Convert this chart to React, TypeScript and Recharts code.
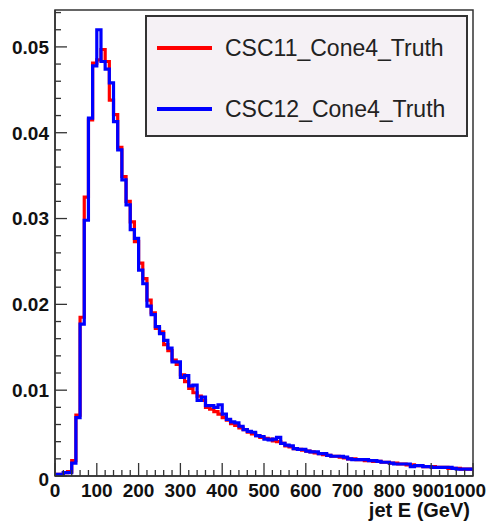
import { LineChart, Line, XAxis, YAxis, ReferenceArea, Legend } from "recharts"

// 10 GeV bins from 0 to 1000 GeV, normalised entries
const BIN_WIDTH = 10

const csc11 = [
  0.0002, 0.0002, 0.0004, 0.0005, 0.0018, 0.0071, 0.0185, 0.0325, 0.0415, 0.0481,
  0.0485, 0.0497, 0.0483, 0.0438, 0.0421, 0.0383, 0.0349, 0.0320, 0.0296, 0.0273,
  0.0248, 0.0230, 0.0205, 0.0190, 0.0172, 0.0168, 0.0153, 0.0146, 0.0135, 0.0130,
  0.0118, 0.0110, 0.0102, 0.0097, 0.0093, 0.0088, 0.0080, 0.0078, 0.0075, 0.0072,
  0.0068, 0.0065, 0.0061, 0.0059, 0.0056, 0.0054, 0.0051, 0.0049, 0.0047, 0.0045,
  0.0044, 0.0043, 0.0041, 0.0040, 0.0038, 0.0035, 0.0034, 0.0032, 0.0031, 0.0030,
  0.0029, 0.0028, 0.0027, 0.0026, 0.0025, 0.0024, 0.0023, 0.0023, 0.0022, 0.0021,
  0.0020, 0.0020, 0.0019, 0.0019, 0.0018, 0.0018, 0.0017, 0.0017, 0.0016, 0.0016,
  0.0015, 0.0015, 0.0014, 0.0014, 0.0013, 0.0013, 0.0012, 0.0012, 0.0011, 0.0011,
  0.0011, 0.0010, 0.0010, 0.0010, 0.0009, 0.0009, 0.0009, 0.0008, 0.0008, 0.0008,
]

const csc12 = [
  0.0002, 0.0002, 0.0004, 0.0004, 0.0015, 0.0068, 0.0177, 0.0298, 0.0417, 0.0478,
  0.0520, 0.0483, 0.0474, 0.0458, 0.0413, 0.0380, 0.0345, 0.0316, 0.0287, 0.0277,
  0.0240, 0.0224, 0.0198, 0.0188, 0.0174, 0.0166, 0.0158, 0.0149, 0.0133, 0.0133,
  0.0115, 0.0117, 0.0105, 0.0106, 0.0088, 0.0092, 0.0082, 0.0082, 0.0080, 0.0083,
  0.0072, 0.0066, 0.0063, 0.0062, 0.0058, 0.0054, 0.0052, 0.0051, 0.0047, 0.0046,
  0.0043, 0.0042, 0.0043, 0.0045, 0.0038, 0.0036, 0.0035, 0.0032, 0.0031, 0.0031,
  0.0029, 0.0028, 0.0028, 0.0026, 0.0026, 0.0024, 0.0023, 0.0023, 0.0023, 0.0022,
  0.0020, 0.0019, 0.0019, 0.0019, 0.0019, 0.0018, 0.0018, 0.0017, 0.0016, 0.0016,
  0.0015, 0.0014, 0.0014, 0.0014, 0.0014, 0.0011, 0.0012, 0.0012, 0.0011, 0.0011,
  0.0010, 0.0010, 0.0010, 0.0010, 0.0010, 0.0009, 0.0008, 0.0008, 0.0008, 0.0008,
]

const xTicks = Array.from({ length: 51 }, (_, i) => i * 20)
const yTicks = Array.from({ length: 28 }, (_, i) => +(i * 0.002).toFixed(3))
const yLabels: Record<string, string> = { "0": "0", "0.01": "0.01", "0.02": "0.02", "0.03": "0.03", "0.04": "0.04", "0.05": "0.05" }
// the last two labels sit a little left of their ticks, as in the original
const xShift: Record<number, number> = { 900: -3, 1000: -8 }

const FONT = "'Liberation Sans', Arial, Helvetica, sans-serif"
const AXIS = "#333333"

const data = csc11.map((v, i) => ({ e: i * BIN_WIDTH, csc11: v, csc12: csc12[i] }))
data.push({ e: csc11.length * BIN_WIDTH, csc11: csc11[csc11.length - 1], csc12: csc12[csc12.length - 1] })

const YTick = (props: any) => {
  const { x, y, payload } = props
  const v = payload.value
  const major = Math.abs(v * 100 - Math.round(v * 100)) < 1e-6
  const label = yLabels[String(v)]
  return (
    <g>
      <line x1={x} x2={x + (major ? 12 : 6)} y1={y} y2={y} stroke={AXIS} strokeWidth={1.3} />
      {major && label !== undefined && (
        <text x={x - 6} y={y + (v === 0 ? 3 : 0)} dy="0.36em" textAnchor="end" fontFamily={FONT} fontWeight="bold" fontSize={19} fill="#111">
          {label}
        </text>
      )}
    </g>
  )
}

const XTick = (props: any) => {
  const { x, y, payload } = props
  const v = payload.value
  const major = v % 100 === 0
  return (
    <g>
      <line x1={x} x2={x} y1={y} y2={y - (major ? 13 : 6)} stroke={AXIS} strokeWidth={1.3} />
      {major && (
        <text x={x + (xShift[v] ?? 0)} y={y + 21} textAnchor="middle" fontFamily={FONT} fontWeight="bold" fontSize={19} fill="#111">
          {v}
        </text>
      )}
    </g>
  )
}

const LegendBox = ({ payload }: any) => (
  <div style={{ width: 319, height: 118, background: "#F5F1F5", border: `2px solid ${AXIS}`, fontFamily: FONT, fontSize: 23, color: "#222", boxSizing: "content-box" }}>
    {(payload || []).map((p: any, i: number) => (
      <div key={p.value} style={{ display: "flex", alignItems: "center", height: 30, marginTop: i === 0 ? 16 : 31 }}>
        <div style={{ width: 55, height: 4, background: p.color, marginLeft: 10, marginRight: 13 }} />
        <span>{p.value}</span>
      </div>
    ))}
  </div>
)

export default function App() {
  return (
    <div style={{ position: "absolute", left: 0, top: 0, width: 497, height: 523, background: "#fff" }}>
      <LineChart width={497} height={523} data={data} margin={{ top: 10, right: 24, bottom: 0, left: 10 }}>
        <XAxis dataKey="e" type="number" domain={[0, 1000]} ticks={xTicks} interval={0} tick={<XTick />} tickSize={0} tickMargin={0} tickLine={false} axisLine={{ stroke: AXIS, strokeWidth: 1.5 }} height={47} />
        <YAxis type="number" domain={[0, 0.0543]} ticks={yTicks} interval={0} tick={<YTick />} tickSize={0} tickMargin={0} tickLine={false} axisLine={{ stroke: AXIS, strokeWidth: 1.5 }} width={45} allowDataOverflow />
        <ReferenceArea x1={0} x2={1000} y1={0} y2={0.0543} fill="none" stroke={AXIS} strokeWidth={1.5} ifOverflow="visible" />
        <Line name="CSC11_Cone4_Truth" dataKey="csc11" type="stepAfter" stroke="#FF0000" strokeWidth={3.2} dot={false} isAnimationActive={false} />
        <Line name="CSC12_Cone4_Truth" dataKey="csc12" type="stepAfter" stroke="#0000FF" strokeWidth={3.2} dot={false} isAnimationActive={false} />
        <Legend content={<LegendBox />} layout="horizontal" verticalAlign="middle" align="center" wrapperStyle={{ top: 15, left: 145, width: 323, height: 122 }} />
        <text x={470} y={517} textAnchor="end" fontFamily={FONT} fontWeight="bold" fontSize={20} fill="#111">jet E (GeV)</text>
      </LineChart>
    </div>
  )
}
